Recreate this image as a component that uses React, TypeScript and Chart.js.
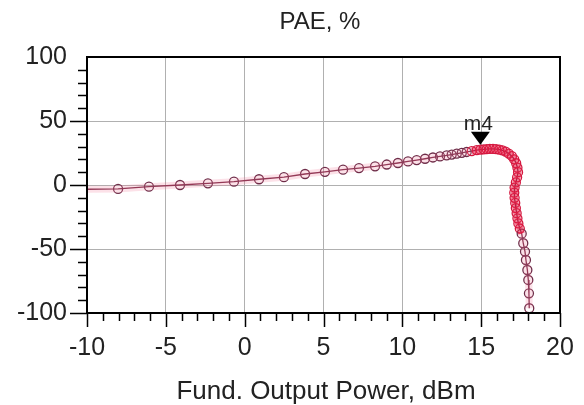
import { useEffect, useRef } from "react";
import { Chart, registerables } from "chart.js";

Chart.register(...registerables);

// ---- data ----
const outputPower = [
  -10.6, -8.03, -6.07, -4.1, -2.33, -0.68, 0.91, 2.49, 3.83, 5.09, 6.24, 7.25, 8.27,
  9.01, 9.72, 10.36, 10.91, 11.44, 11.94, 12.39, 12.81, 13.13, 13.45, 13.77, 14.08, 14.4, 14.72,
  14.95, 15.15, 15.35, 15.55, 15.75, 15.95, 16.15, 16.35, 16.55, 16.75, 16.95, 17.1, 17.22,
  17.3, 17.34, 17.28, 17.2, 17.12, 17.1, 17.12, 17.16, 17.2, 17.25, 17.3, 17.36, 17.45,
  17.57, 17.67, 17.78, 17.84, 17.93, 17.99, 18.03, 18.05,
];
const paePercent = [
  -3.4, -3.1, -1.3, 0, 1.3, 2.6, 4.5, 6.1, 8.6, 10.3, 12.0, 13.2, 14.6,
  16.0, 17.2, 18.4, 19.5, 20.5, 21.5, 22.3, 23.1, 23.8, 24.5, 25.1, 25.8, 26.5, 27.2,
  27.6, 27.9, 28.1, 28.2, 28.2, 28.0, 27.6, 27.0, 26.0, 24.5, 22.5, 20.0, 17.0,
  13.5, 10.0, 6.0, 2.0, -2.0, -6.0, -10.0, -14.0, -18.0, -22.0, -26.0, -30.0, -34.0,
  -38.0, -45.5, -52.0, -58.6, -66.4, -74.2, -84.6, -96.3,
];
const xTickValues = [-10, -5, 0, 5, 10, 15, 20];
const yTickValues = [-100, -50, 0, 50, 100];
const chartTitle = "PAE, %";
const xAxisTitle = "Fund. Output Power, dBm";
const markerName = "m4";
const markerX = 14.95;
const markerY = 27.6;

const FONT = "'Liberation Sans', Arial, sans-serif";

const decorPlugin = {
  id: "decor",
  afterDatasetsDraw(chart: any) {
    const { ctx, chartArea: a, scales } = chart;
    const xs = scales.x;
    const ys = scales.y;
    ctx.save();
    // frame
    ctx.strokeStyle = "#000";
    ctx.lineWidth = 2;
    ctx.strokeRect(a.left, a.top, a.right - a.left, a.bottom - a.top);

    // y ticks (major + minor)
    ctx.lineWidth = 1.5;
    ctx.beginPath();
    for (let v = -100; v < 100; v += 10) {
      const y = Math.round(ys.getPixelForValue(v)) + 0.5;
      const len = v % 50 === 0 ? 17 : 9;
      ctx.moveTo(a.left - len, y);
      ctx.lineTo(a.left, y);
    }
    // x ticks
    for (let v = -10; v <= 20; v += 1) {
      const x = Math.round(xs.getPixelForValue(v)) + 0.5;
      const len = v % 5 === 0 ? 14 : 8;
      ctx.moveTo(x, a.bottom);
      ctx.lineTo(x, a.bottom + len);
    }
    ctx.stroke();

    // tick labels
    ctx.fillStyle = "#222";
    ctx.font = `25px ${FONT}`;
    ctx.textBaseline = "alphabetic";
    ctx.textAlign = "right";
    yTickValues.forEach((v) => {
      ctx.fillText(String(v), 67, ys.getPixelForValue(v) + 7);
    });
    ctx.textAlign = "center";
    xTickValues.forEach((v) => {
      ctx.fillText(String(v), xs.getPixelForValue(v), 355);
    });

    // titles
    ctx.font = `24px ${FONT}`;
    ctx.fillText(chartTitle, 320, 29);
    ctx.font = `26px ${FONT}`;
    ctx.fillText(xAxisTitle, 326, 399);

    // marker m4
    const mx = xs.getPixelForValue(markerX);
    const my = ys.getPixelForValue(markerY);
    ctx.fillStyle = "#000";
    ctx.beginPath();
    ctx.moveTo(mx, my - 5);
    ctx.lineTo(mx - 9.5, my - 18);
    ctx.lineTo(mx + 9.5, my - 18);
    ctx.closePath();
    ctx.fill();
    ctx.fillStyle = "#222";
    ctx.font = `21px ${FONT}`;
    ctx.fillText(markerName, mx - 2, my - 20);
    ctx.restore();
  },
};

export default function App() {
  const canvasRef = useRef<HTMLCanvasElement | null>(null);

  useEffect(() => {
    const canvas = canvasRef.current;
    if (!canvas) return;
    const points = outputPower.map((x, i) => ({ x, y: paePercent[i] }));
    const isDense = (i: number) => outputPower[i] > 14.3 && paePercent[i] > -36;

    const chart = new Chart(canvas, {
      type: "scatter",
      data: {
        datasets: [
          {
            data: points,
            showLine: true,
            borderColor: "rgba(240,120,150,0.22)",
            borderWidth: 7,
            pointRadius: 0,
            clip: 0,
            segment: {
              borderColor: (c: any) =>
                isDense(c.p0DataIndex) ? "rgba(230,30,70,0.55)" : "rgba(240,120,150,0.22)",
            },
          } as any,
          {
            data: points,
            showLine: true,
            borderColor: "#7a2845",
            borderWidth: 1.3,
            pointRadius: (c: any) => (c.dataIndex === 0 ? 0 : 4.5),
            pointBorderWidth: 1.3,
            pointBorderColor: (c: any) => (isDense(c.dataIndex) ? "#d4183f" : "#6e2c48"),
            pointBackgroundColor: "rgba(0,0,0,0)",
            clip: 0,
          } as any,
        ],
      },
      options: {
        responsive: false,
        animation: false,
        devicePixelRatio: 1,
        layout: { padding: { left: 0, top: 57, right: 24, bottom: 0 } },
        plugins: {
          legend: { display: false },
          tooltip: { enabled: false },
          title: { display: false },
        },
        scales: {
          x: {
            type: "linear",
            min: -10,
            max: 20,
            ticks: { stepSize: 5, display: false },
            grid: { color: "#b0b0b0", lineWidth: 1, drawTicks: false },
            border: { display: false },
            afterFit: (s: any) => {
              s.height = 92;
            },
          },
          y: {
            type: "linear",
            min: -100,
            max: 100,
            ticks: { stepSize: 50, display: false },
            grid: { color: "#b0b0b0", lineWidth: 1, drawTicks: false },
            border: { display: false },
            afterFit: (s: any) => {
              s.width = 87;
            },
          },
        },
      } as any,
      plugins: [decorPlugin],
    });
    return () => chart.destroy();
  }, []);

  return (
    <div style={{ position: "fixed", left: 0, top: 0, width: 584, height: 405, background: "#fff" }}>
      <canvas ref={canvasRef} width={584} height={405} style={{ display: "block" }} />
    </div>
  );
}
